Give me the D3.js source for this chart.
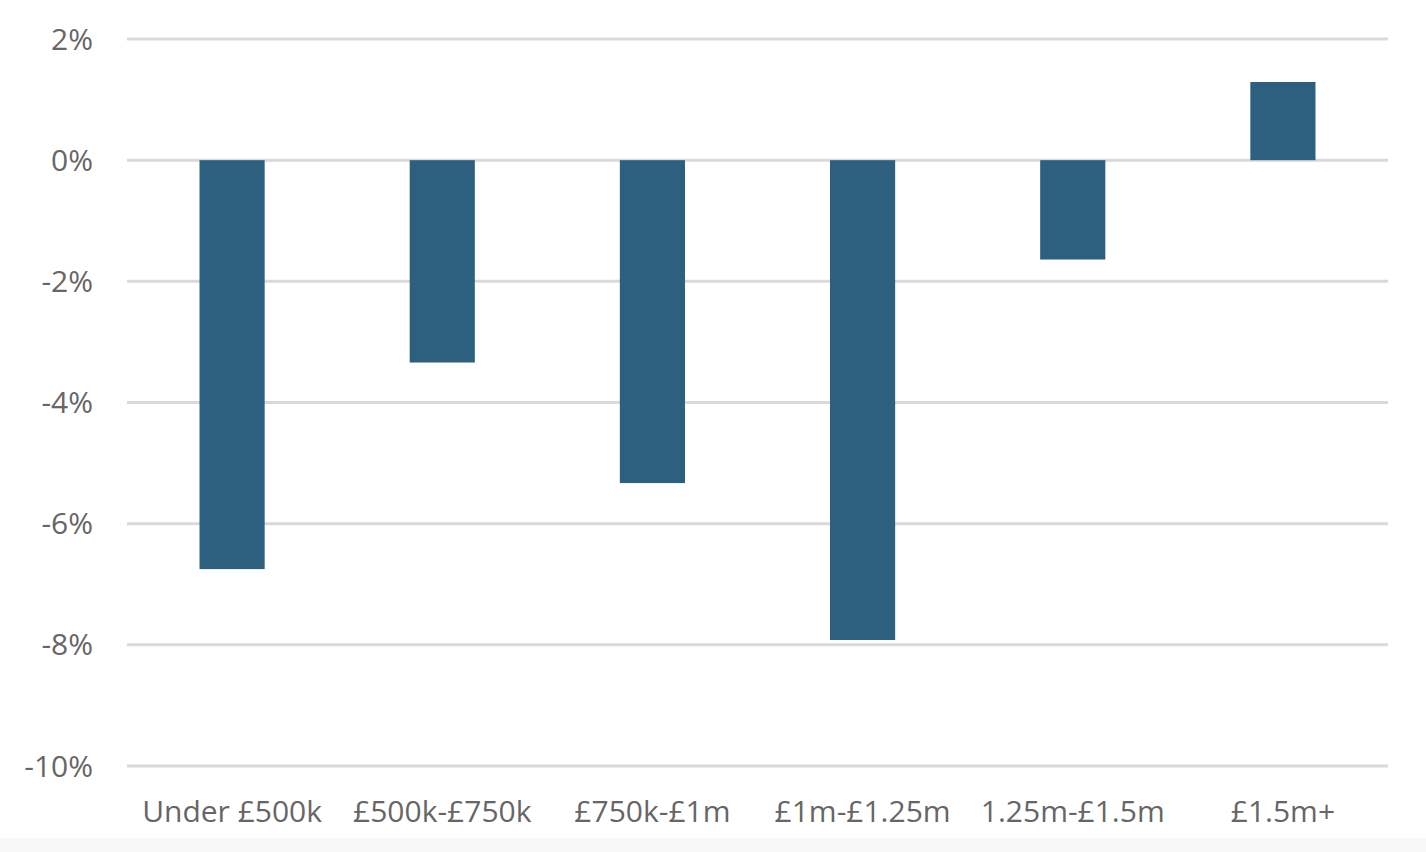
<!DOCTYPE html>
<html>
<head>
<meta charset="utf-8">
<script src="https://cdn.jsdelivr.net/npm/d3@7"></script>
<style>
  body { margin: 0; background: #fff; }
  text { font-family: "Open Sans", "Lato", sans-serif; fill: #666; }
</style>
</head>
<body>
<div id="chart"></div>
<script>
var categories = ["Under £500k", "£500k-£750k", "£750k-£1m", "£1m-£1.25m", "1.25m-£1.5m", "£1.5m+"];
var values = [-6.75, -3.34, -5.33, -7.92, -1.64, 1.29];
var yTicks = [2, 0, -2, -4, -6, -8, -10];

var w = 1426, h = 852;
var plotLeft = 127, plotRight = 1388, plotTop = 39, plotBottom = 766;

var svg = d3.select("#chart").append("svg")
    .attr("width", w)
    .attr("height", h);

// faint band along the bottom edge
svg.append("rect")
    .attr("x", 0)
    .attr("y", 838)
    .attr("width", w)
    .attr("height", h - 838)
    .attr("fill", "#f8f8f8");

var x = d3.scaleBand()
    .domain(categories)
    .range([plotLeft, plotRight])
    .paddingInner(0.69)
    .paddingOuter(0.345);

var y = d3.scaleLinear()
    .domain([-10, 2])
    .range([plotBottom, plotTop]);

// gridlines
svg.selectAll("line.grid")
    .data(yTicks)
    .enter()
    .append("line")
    .attr("class", "grid")
    .attr("x1", plotLeft)
    .attr("x2", plotRight)
    .attr("y1", function(d) { return y(d); })
    .attr("y2", function(d) { return y(d); })
    .attr("stroke", "#d9d9d9")
    .attr("stroke-width", 3);

// y labels
svg.selectAll("text.ylab")
    .data(yTicks)
    .enter()
    .append("text")
    .attr("class", "ylab")
    .attr("x", 93)
    .attr("y", function(d) { return y(d); })
    .attr("dy", "0.35em")
    .attr("text-anchor", "end")
    .style("font-size", "30px")
    .text(function(d) { return d + "%"; });

// bars
svg.selectAll("rect.bar")
    .data(values)
    .enter()
    .append("rect")
    .attr("class", "bar")
    .attr("x", function(d, i) { return x(categories[i]); })
    .attr("width", x.bandwidth())
    .attr("y", function(d) { return y(Math.max(0, d)); })
    .attr("height", function(d) { return Math.abs(y(d) - y(0)); })
    .attr("fill", "#2d5f7f");

// x labels
svg.selectAll("text.xlab")
    .data(categories)
    .enter()
    .append("text")
    .attr("class", "xlab")
    .attr("x", function(d) { return x(d) + x.bandwidth() / 2; })
    .attr("y", 811)
    .attr("dy", "0.35em")
    .attr("text-anchor", "middle")
    .style("font-size", "30px")
    .text(function(d) { return d; });
</script>
</body>
</html>
